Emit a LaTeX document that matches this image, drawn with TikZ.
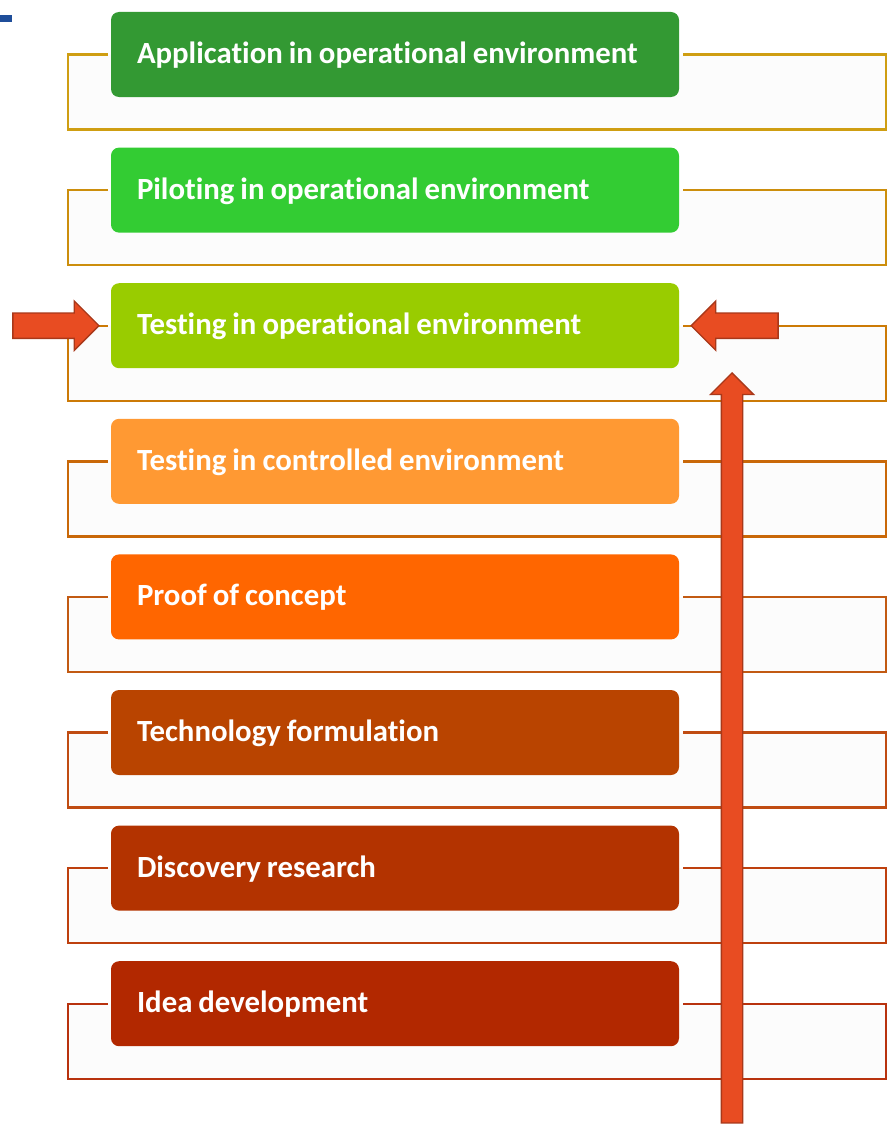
\documentclass[tikz,border=0pt]{standalone}
\usepackage{fontspec}
\setmainfont[Ligatures={NoCommon,NoContextual}]{Carlito}
\usepackage{tikz}
\usetikzlibrary{positioning,shapes.arrows,backgrounds}

\definecolor{stageA}{HTML}{339933}
\definecolor{stageB}{HTML}{33CC33}
\definecolor{stageC}{HTML}{99CC00}
\definecolor{stageD}{HTML}{FF9933}
\definecolor{stageE}{HTML}{FF6600}
\definecolor{stageF}{HTML}{B94400}
\definecolor{stageG}{HTML}{B33300}
\definecolor{stageH}{HTML}{B22800}
\definecolor{frameA}{HTML}{CF9E12}
\definecolor{frameB}{HTML}{CC8E0C}
\definecolor{frameC}{HTML}{CC7A06}
\definecolor{frameD}{HTML}{C96808}
\definecolor{frameE}{HTML}{C25A12}
\definecolor{frameF}{HTML}{C04C12}
\definecolor{frameG}{HTML}{BE400E}
\definecolor{frameH}{HTML}{B8320E}
\definecolor{frameback}{HTML}{FCFCFC}
\definecolor{pointer}{HTML}{E84C22}
\definecolor{pointeredge}{HTML}{A8381A}
\definecolor{cornermark}{HTML}{1F4E9A}

\begin{document}
\begin{tikzpicture}[
  x=1pt, y=-1pt,
  node distance=50.2pt,
  font=\fontsize{30.8}{34}\selectfont\bfseries,
  stage/.style={rectangle, rounded corners=8pt, text=white, inner xsep=26pt,
    minimum width=568pt, minimum height=85pt, text width=516pt, align=left,
    text height=22pt, text depth=4pt,
    execute at begin node={\spaceskip=6pt\relax}},
  bracket/.style={line width=2.4pt, fill=frameback},
  pointerarrow/.style={single arrow, fill=pointer, draw=pointeredge, line width=1.3pt,
    inner sep=0pt, inner ysep=12pt, single arrow head extend=12pt}
]
\useasboundingbox (0,0) rectangle (893,1124);

% corner mark
\fill[cornermark] (0,15) rectangle (12,22);

% stages, top to bottom
\node[stage, fill=stageA] (s1) at (395,54.5) {Application in operational environment};
\node[stage, fill=stageB, below=of s1] (s2) {Piloting in operational environment};
\node[stage, fill=stageC, below=of s2] (s3) {Testing in operational environment};
\node[stage, fill=stageD, below=of s3] (s4) {Testing in controlled environment};
\node[stage, fill=stageE, below=of s4] (s5) {Proof of concept};
\node[stage, fill=stageF, below=of s5] (s6) {Technology formulation};
\node[stage, fill=stageG, below=of s6] (s7) {Discovery research};
\node[stage, fill=stageH, below=of s7] (s8) {Idea development};

% open frames behind each stage
\begin{scope}[on background layer]
\foreach \n/\c in {s1/frameA, s2/frameB, s3/frameC, s4/frameD,
                   s5/frameE, s6/frameF, s7/frameG, s8/frameH}
  \draw[bracket, draw=\c] ([xshift=-3pt]\n.west) -- ++(-40,0) -- ++(0,75)
    -- ++(818,0) -- ++(0,-75) -- ([xshift=4pt]\n.east);
\end{scope}

% pointers onto the current stage
\node[pointerarrow, minimum height=86pt, minimum width=48pt, anchor=tip]
  (pin) at ([xshift=-11pt]s3.west) {};
\node[pointerarrow, minimum height=87pt, minimum width=48pt, shape border rotate=180, anchor=tip]
  (pout) at ([xshift=11pt]s3.east) {};
\node[pointerarrow, inner sep=10pt, single arrow head extend=11pt,
  minimum height=750pt, minimum width=43pt, shape border rotate=90, anchor=tip]
  (rise) at (732,372) {};

\end{tikzpicture}
\end{document}
